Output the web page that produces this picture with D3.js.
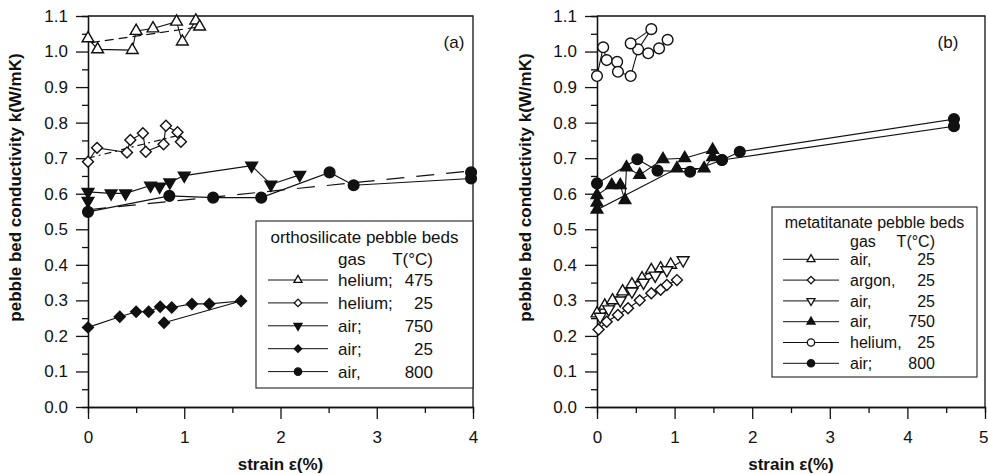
<!DOCTYPE html>
<html>
<head>
<meta charset="utf-8">
<script src="https://cdn.jsdelivr.net/npm/d3@7"></script>
<style>
  body { margin: 0; background: #fff; }
  text { font-family: Arial, "Liberation Sans", sans-serif; fill: #111; }
</style>
</head>
<body>
<svg id="drawing_region"></svg>
<script>
// ---- panel (a): orthosilicate [strain %, k W/mK]
const orthoHe475 = [[0,1.037],[0.10,1.006],[0.46,1.004],[0.50,1.058],[0.675,1.065],[0.92,1.084],[0.98,1.028],[1.12,1.087],[1.16,1.070]];
const orthoHe475Fit = [[0.03,1.025],[1.12,1.068]];
const orthoHe25 = [[0,0.690],[0.094,0.729],[0.405,0.716],[0.44,0.751],[0.57,0.770],[0.60,0.718],[0.785,0.739],[0.81,0.791],[0.93,0.773],[0.965,0.746]];
const orthoHe25Fit = [[0,0.700],[0.95,0.765]];
const orthoAir750 = [[0,0.580],[0,0.605],[0.24,0.601],[0.39,0.601],[0.65,0.623],[0.744,0.620],[0.85,0.632],[1.0,0.651],[1.70,0.679],[1.90,0.626],[2.20,0.653]];
const orthoAir25 = [[0,0.224],[0.33,0.254],[0.50,0.268],[0.63,0.268],[0.75,0.282],[0.87,0.280],[1.08,0.290],[1.26,0.290],[1.59,0.298],[0.79,0.237]];
const orthoAir800 = [[0,0.549],[0.845,0.594],[1.30,0.589],[1.80,0.589],[2.51,0.660],[2.76,0.624],[3.98,0.643],[3.98,0.660]];
const orthoAir800Fit = [[0,0.555],[4,0.665]];
const orthoGas = ['helium;', 'helium;', 'air;', 'air;', 'air,'];
const orthoTemp = ['475', '25', '750', '25', '800'];

// ---- panel (b): metatitanate
const metaAir25a = [[0,0.263],[0.10,0.285],[0.20,0.300],[0.33,0.325],[0.45,0.345],[0.58,0.362],[0.70,0.385],[0.82,0.390],[0.95,0.400]];
const metaArgon25 = [[0.02,0.218],[0.125,0.240],[0.27,0.259],[0.40,0.278],[0.55,0.300],[0.70,0.320],[0.82,0.330],[0.90,0.343],[1.03,0.357]];
const metaAir25b = [[0.04,0.254],[0.15,0.275],[0.30,0.300],[0.45,0.325],[0.60,0.350],[0.75,0.370],[0.90,0.385],[1.11,0.413]];
const metaAir750 = [[0,0.596],[0.19,0.624],[0.30,0.624],[0.36,0.582],[0.38,0.674],[0.55,0.653],[0.85,0.697],[1.13,0.700],[1.49,0.723],[1.49,0.703],[1.38,0.671],[1.03,0.671],[0,0.555],[0,0.575]];
const metaHe25 = [[0,0.931],[0.08,1.012],[0.125,0.976],[0.26,0.971],[0.27,0.943],[0.434,0.931],[0.53,1.006],[0.70,1.063],[0.434,1.023],[0.66,0.995],[0.80,1.009],[0.91,1.033]];
const metaAir800 = [[0,0.629],[0.52,0.697],[0.78,0.665],[1.20,0.662],[1.61,0.695],[1.84,0.718],[4.6,0.810],[4.6,0.790],[1.61,0.695]];
const metaGas = ['air,', 'argon,', 'air,', 'air,', 'helium,', 'air;'];
const metaTemp = ['25', '25', '25', '750', '25', '800'];

const yTicks = d3.range(0, 1.1001, 0.1);
const yMinor = d3.range(0.05, 1.1, 0.1);

const svg = d3.select('#drawing_region').attr('width', 988).attr('height', 474);

// marker shapes
function markerPath(shape, size) {
    if (shape === 'triUp' || shape === 'triDown') return d3.symbol().type(d3.symbolTriangle).size(size)();
    if (shape === 'diamond') return d3.symbol().type(d3.symbolSquare).size(size)();
    return d3.symbol().type(d3.symbolCircle).size(size * 1.5)();
}
function markerRot(shape) {
    if (shape === 'triDown') return ' rotate(180)';
    if (shape === 'diamond') return ' rotate(45)';
    return '';
}

class StrainChart {
    constructor(config, series, fits, legend) {
        this.config = config;
        this.series = series;
        this.fits = fits;
        this.legend = legend;
        this.init();
    }
    init() {
        let self = this;
        let c = self.config;
        self.g = svg.append('g');
        self.xscale = d3.scaleLinear().domain([0, c.xmax]).range([c.left, c.right]);
        self.yscale = d3.scaleLinear().domain([0, 1.1]).range([c.bottom, c.top]);

        // frame top / right
        self.g.append('path')
            .attr('d', `M${c.left},${c.top}H${c.right}V${c.bottom}`)
            .attr('fill', 'none').attr('stroke', '#111').attr('stroke-width', 1.3);

        let yaxis = d3.axisLeft(self.yscale).tickValues(yTicks).tickSize(12).tickPadding(8)
            .tickFormat(d3.format('.1f')).tickSizeOuter(0);
        let yminor = d3.axisLeft(self.yscale).tickValues(yMinor).tickSize(6).tickFormat('');
        let xaxis = d3.axisBottom(self.xscale).tickValues(d3.range(0, c.xmax + 0.01, 1)).tickSize(12).tickPadding(12)
            .tickFormat(d3.format('d')).tickSizeOuter(0);
        let xminor = d3.axisBottom(self.xscale).tickValues(d3.range(0.5, c.xmax, 1)).tickSize(6).tickFormat('');

        [ [yaxis, `translate(${c.left},0)`], [yminor, `translate(${c.left},0)`],
          [xaxis, `translate(0,${c.bottom})`], [xminor, `translate(0,${c.bottom})`] ].forEach(a => {
            let ag = self.g.append('g').attr('transform', a[1]).call(a[0]);
            ag.attr('font-size', 17).attr('font-family', 'Arial, "Liberation Sans", sans-serif');
            ag.selectAll('path, line').attr('stroke', '#111').attr('stroke-width', 1.3);
            ag.selectAll('text').attr('fill', '#111');
            if (a[0] === xaxis && c.lastLabelEnd) {
                // last label sits at the page edge
                ag.selectAll('.tick:last-of-type text').attr('text-anchor', 'end').attr('x', 3);
            }
        });

        self.g.append('text')
            .attr('transform', `translate(${c.ytitleX},${(c.top + c.bottom) / 2 - 24}) rotate(-90)`)
            .attr('text-anchor', 'middle').attr('dy', '0.35em')
            .attr('font-size', 17).attr('font-weight', 'bold')
            .text('pebble bed conductivity k(W/mK)');
        self.g.append('text')
            .attr('x', (c.left + c.right) / 2).attr('y', 470)
            .attr('text-anchor', 'middle')
            .attr('font-size', 17).attr('font-weight', 'bold')
            .text('strain ε(%)');
        self.g.append('text')
            .attr('x', c.tagX).attr('y', 48)
            .attr('text-anchor', 'middle').attr('font-size', 17)
            .text(c.tag);
    }
    render() {
        let self = this;
        let line = d3.line().x(d => self.xscale(d[0])).y(d => self.yscale(d[1]));

        self.fits.forEach(f => {
            self.g.append('path').attr('d', line(f.data))
                .attr('fill', 'none').attr('stroke', '#111').attr('stroke-width', 1.2)
                .attr('stroke-dasharray', f.dash);
        });
        self.series.forEach(s => {
            self.g.append('path').attr('d', line(s.data))
                .attr('fill', 'none').attr('stroke', '#111').attr('stroke-width', 1.1);
        });
        self.series.forEach(s => {
            self.g.selectAll(null).data(s.data).join('path')
                .attr('d', markerPath(s.shape, 60))
                .attr('transform', d => `translate(${self.xscale(d[0])},${self.yscale(d[1])})` + markerRot(s.shape))
                .attr('fill', s.filled ? '#111' : '#fff')
                .attr('stroke', '#111').attr('stroke-width', 1.4);
        });

        // legend
        let L = self.legend;
        let lg = self.g.append('g');
        lg.append('rect').attr('x', L.x0).attr('y', L.y0).attr('width', L.x1 - L.x0).attr('height', L.y1 - L.y0)
            .attr('fill', '#fff').attr('stroke', '#222').attr('stroke-width', 1.1);
        lg.append('text').attr('x', (L.x0 + L.x1) / 2).attr('y', L.titleY)
            .attr('text-anchor', 'middle').attr('font-size', L.fs).text(L.title);
        lg.append('text').attr('x', L.labelX).attr('y', L.headY).attr('font-size', L.fs).text('gas');
        lg.append('text').attr('x', L.tempX).attr('y', L.headY).attr('font-size', L.fs).attr('text-anchor', 'end').text('T(°C)');
        self.series.forEach((s, i) => {
            let cy = L.rowY + i * L.rowStep;
            lg.append('line').attr('x1', L.lineX0).attr('x2', L.lineX1).attr('y1', cy).attr('y2', cy)
                .attr('stroke', '#111').attr('stroke-width', 1);
            lg.append('path').attr('d', markerPath(s.shape, 28))
                .attr('transform', `translate(${(L.lineX0 + L.lineX1) / 2},${cy})` + markerRot(s.shape))
                .attr('fill', s.filled ? '#111' : '#fff').attr('stroke', '#111').attr('stroke-width', 1.3);
            lg.append('text').attr('x', L.labelX).attr('y', cy).attr('dy', '0.36em')
                .attr('font-size', L.fs).text(L.gas[i]);
            lg.append('text').attr('x', L.tempX).attr('y', cy).attr('dy', '0.36em')
                .attr('text-anchor', 'end').attr('font-size', L.fs).text(L.temp[i]);
        });
    }
}

const chartA = new StrainChart(
    { left: 88, right: 473, top: 16, bottom: 407, xmax: 4, ytitleX: 15, tagX: 454, tag: '(a)' },
    [
        { data: orthoHe475, shape: 'triUp', filled: false },
        { data: orthoHe25, shape: 'diamond', filled: false },
        { data: orthoAir750, shape: 'triDown', filled: true },
        { data: orthoAir25, shape: 'diamond', filled: true },
        { data: orthoAir800, shape: 'circle', filled: true }
    ],
    [
        { data: orthoHe475Fit, dash: '9,5' },
        { data: orthoHe25Fit, dash: '7,4,2,4' },
        { data: orthoAir800Fit, dash: '18,12' }
    ],
    { x0: 256, x1: 473, y0: 221, y1: 388, fs: 17, title: 'orthosilicate pebble beds',
      titleY: 243, headY: 265, labelX: 338, tempX: 433, rowY: 280, rowStep: 22.9,
      lineX0: 268, lineX1: 328, gas: orthoGas, temp: orthoTemp }
);
chartA.render();

const chartB = new StrainChart(
    { left: 597, right: 985, top: 16, bottom: 407, xmax: 5, ytitleX: 525, tagX: 948, tag: '(b)', lastLabelEnd: true },
    [
        { data: metaAir25a, shape: 'triUp', filled: false },
        { data: metaArgon25, shape: 'diamond', filled: false },
        { data: metaAir25b, shape: 'triDown', filled: false },
        { data: metaAir750, shape: 'triUp', filled: true },
        { data: metaHe25, shape: 'circle', filled: false },
        { data: metaAir800, shape: 'circle', filled: true }
    ],
    [],
    { x0: 772, x1: 977, y0: 207, y1: 377, fs: 16, title: 'metatitanate pebble beds',
      titleY: 228, headY: 247, labelX: 850, tempX: 935, rowY: 259.3, rowStep: 20.8,
      lineX0: 783, lineX1: 839, gas: metaGas, temp: metaTemp }
);
chartB.render();
</script>
</body>
</html>
